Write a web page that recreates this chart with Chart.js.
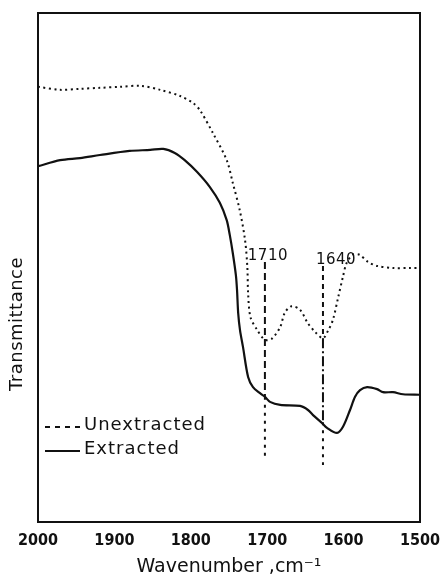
<!DOCTYPE html>
<html>
<head>
<meta charset="utf-8">
<script src="https://cdn.jsdelivr.net/npm/chart.js@4.4.1/dist/chart.umd.min.js"></script>
<style>
html, body { margin: 0; padding: 0; background: #fff; }
</style>
</head>
<body>
<canvas id="myChart" width="442" height="582"></canvas>
<script>
// Valors llegits de la figura: nombre d'ona (cm-1) i transmitància (unitats arbitràries 0-100)
const unextractedWn = [2000, 1971, 1945, 1919, 1893, 1866, 1840, 1814, 1797, 1788, 1771, 1753, 1745, 1736, 1729, 1726, 1725, 1722, 1713, 1703, 1694, 1683, 1677, 1668, 1657, 1647, 1637, 1627, 1620, 1614, 1607, 1601, 1596, 1588, 1579, 1568, 1556, 1535, 1513, 1500]
const unextractedT = [85.5, 84.9, 85.1, 85.3, 85.5, 85.7, 84.9, 83.7, 82.3, 80.9, 76.4, 71.1, 66.6, 61.3, 55.4, 50.1, 45.0, 40.3, 37.7, 35.8, 36.0, 38.3, 41.1, 42.4, 41.7, 39.1, 37.3, 36.1, 37.7, 39.7, 44.2, 48.1, 50.9, 52.5, 52.5, 51.1, 50.3, 49.9, 49.9, 49.9]

const extractedWn = [2000, 1971, 1945, 1919, 1880, 1853, 1836, 1821, 1808, 1792, 1775, 1762, 1753, 1749, 1745, 1741, 1739.5, 1738, 1735.6, 1731.7, 1725, 1718.6, 1709.4, 1703, 1696.3, 1683, 1657, 1646.6, 1640, 1628, 1621.7, 1608.6, 1600.8, 1591.6, 1585, 1578.5, 1569.3, 1556.2, 1548.4, 1535.3, 1522.2, 1500]
const extractedT = [69.9, 71.1, 71.5, 72.1, 72.9, 73.1, 73.3, 72.5, 71.1, 68.8, 65.8, 62.7, 59.3, 56.4, 52.8, 48.5, 45.6, 41.1, 37.7, 34.4, 28.5, 26.5, 25.3, 24.6, 23.6, 23.0, 22.8, 22.0, 21.0, 19.4, 18.5, 17.5, 18.7, 22.0, 24.6, 25.9, 26.5, 26.1, 25.5, 25.5, 25.1, 25.0]

const xTicks = [2000, 1900, 1800, 1700, 1600, 1500]
const seriesNames = ['Unextracted', 'Extracted']

// Línies verticals de les bandes 1710 i 1640 (punts on canvia el traç)
const peakLabels = ['1710', '1640']
const peakWn = [1703, 1627]
const peak1710Y = [51.1, 24.6, 12.6]
const peak1640Y = [50.3, 36.1, 19.6, 11.2]

const ink = '#111'
const toPoints = (xs, ys) => xs.map((x, i) => ({ x: x, y: ys[i] }))

// Patrons de traç per a cada tram de les línies verticals
const peakDashes = [
    [[7, 4], [3, 5]],
    [[5, 4], [10, 3, 2, 3], [3, 5]]
]

// Plugin per dibuixar el títol vertical, les etiquetes de les bandes i la llegenda
const extras = {
    id: 'extras',
    afterDraw(chart) {
        const ctx = chart.ctx
        const area = chart.chartArea
        const xs = chart.scales.x
        const ys = chart.scales.y
        ctx.save()
        ctx.fillStyle = ink
        ctx.letterSpacing = '0.5px'

        // títol de l'eix Y
        ctx.save()
        ctx.translate(17, 324)
        ctx.rotate(-Math.PI / 2)
        ctx.font = '18px "DejaVu Sans"'
        ctx.textAlign = 'center'
        ctx.textBaseline = 'middle'
        ctx.fillText('Transmittance', 0, 0)
        ctx.restore()

        // etiquetes 1710 / 1640
        const shift = [3, 13]
        const tops = [peak1710Y[0], peak1640Y[0]]
        ctx.font = '15px "DejaVu Sans"'
        ctx.textAlign = 'center'
        ctx.textBaseline = 'alphabetic'
        peakLabels.forEach((txt, i) => {
            const px = xs.getPixelForValue(peakWn[i]) + shift[i]
            const py = ys.getPixelForValue(tops[i]) - 2
            ctx.fillText(txt, px, py)
        })

        // llegenda
        const ds = chart.data.datasets
        const rows = [area.bottom - 97, area.bottom - 73]
        ctx.font = '18px "DejaVu Sans"'
        ctx.textAlign = 'left'
        ctx.textBaseline = 'middle'
        ctx.letterSpacing = '1px'
        seriesNames.forEach((name, i) => {
            const y = rows[i]
            ctx.beginPath()
            ctx.strokeStyle = ds[i].borderColor
            ctx.lineWidth = 2
            ctx.setLineDash(i === 0 ? [5, 5] : [])
            ctx.moveTo(area.left + 7, y + 2)
            ctx.lineTo(area.left + 42, y + 2)
            ctx.stroke()
            ctx.setLineDash([])
            ctx.fillText(name, area.left + 46, y)
        })
        ctx.restore()
    }
}

const datasets = [
    {
        label: seriesNames[0],
        data: toPoints(unextractedWn, unextractedT),
        borderColor: ink,
        borderWidth: 2,
        borderDash: [2, 3.5],
        pointRadius: 0,
        tension: 0.3
    },
    {
        label: seriesNames[1],
        data: toPoints(extractedWn, extractedT),
        borderColor: ink,
        borderWidth: 2.2,
        pointRadius: 0,
        tension: 0.3
    }
]
// Cada tram de les línies verticals és un dataset de dos punts amb el seu propi traç
;[peak1710Y, peak1640Y].forEach((ys, i) => {
    for (let k = 0; k < ys.length - 1; k++) {
        datasets.push({
            label: peakLabels[i],
            data: [{ x: peakWn[i], y: ys[k] }, { x: peakWn[i], y: ys[k + 1] }],
            borderColor: ink,
            borderWidth: 2,
            borderDash: peakDashes[i][k],
            pointRadius: 0
        })
    }
})

const chart = new Chart(document.getElementById('myChart').getContext('2d'), {
    type: 'line',
    data: { datasets: datasets },
    options: {
        responsive: false,
        devicePixelRatio: 1,
        animation: false,
        layout: { padding: 0 },
        plugins: { legend: { display: false }, tooltip: { enabled: false } },
        scales: {
            x: {
                type: 'linear',
                position: 'bottom',
                min: 1500,
                max: 2000,
                reverse: true,
                afterBuildTicks: (s) => { s.ticks = xTicks.map(v => ({ value: v })) },
                afterFit: (s) => { s.height = 60; s.paddingLeft = 0; s.paddingRight = 0 },
                ticks: {
                    color: ink,
                    font: { family: '"DejaVu Sans Condensed", "DejaVu Sans"', size: 16, weight: 'bold' },
                    padding: 9,
                    maxRotation: 0,
                    autoSkip: false,
                    callback: (v) => String(v)
                },
                grid: { display: false, drawTicks: false },
                border: { color: ink, width: 2 },
                title: {
                    display: true,
                    text: 'Wavenumber ,cm⁻¹',
                    color: ink,
                    font: { family: 'DejaVu Sans', size: 19 },
                    padding: { top: 0, bottom: 4 }
                }
            },
            xTop: {
                type: 'linear',
                position: 'top',
                min: 1500,
                max: 2000,
                reverse: true,
                afterFit: (s) => { s.height = 13; s.paddingLeft = 0; s.paddingRight = 0 },
                ticks: { display: false },
                grid: { display: false, drawTicks: false },
                border: { color: ink, width: 2 }
            },
            y: {
                type: 'linear',
                position: 'left',
                min: 0,
                max: 100,
                afterFit: (s) => { s.width = 38 },
                ticks: { display: false },
                grid: { display: false, drawTicks: false },
                border: { color: ink, width: 2 }
            },
            yRight: {
                type: 'linear',
                position: 'right',
                min: 0,
                max: 100,
                afterFit: (s) => { s.width = 22 },
                ticks: { display: false },
                grid: { display: false, drawTicks: false },
                border: { color: ink, width: 2 }
            }
        }
    },
    plugins: [extras]
})
</script>
</body>
</html>
